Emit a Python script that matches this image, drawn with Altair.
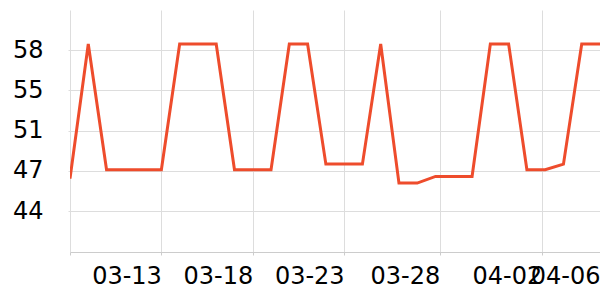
import altair as alt
import pandas as pd

# Dates (one point per day) and values
dates = ["03-08", "03-09", "03-10", "03-11", "03-12", "03-13", "03-14", "03-15",
         "03-16", "03-17", "03-18", "03-19", "03-20", "03-21", "03-22", "03-23",
         "03-24", "03-25", "03-26", "03-27", "03-28", "03-29", "03-30", "03-31",
         "04-01", "04-02", "04-03", "04-04", "04-05", "04-06"]
values = [46.7, 58.76, 47.5, 47.5, 47.5, 47.5, 58.76, 58.76,
          58.76, 47.5, 47.5, 47.5, 58.76, 58.76, 48.0, 48.0,
          48.0, 58.76, 46.3, 46.3, 46.9, 46.9, 46.9, 58.76,
          58.76, 47.5, 47.5, 48.0, 58.76, 58.76]

# Axis ticks
x_tick_pos = [0, 5, 10, 15, 20.23, 25.81, 29]
x_tick_labels = ["", "03-13", "03-18", "03-23", "03-28", "04-02", "04-06"]
y_tick_values = [43.8, 47.4, 51.0, 54.6, 58.2]
y_domain = [40.13, 61.8]

df = pd.DataFrame({"idx": list(range(len(dates))), "date": dates, "value": values})

# build label expression from tick positions/labels
expr = "''"
for i in range(len(x_tick_pos) - 1, -1, -1):
    if i == len(x_tick_pos) - 1:
        expr = f"'{x_tick_labels[i]}'"
    else:
        mid = (x_tick_pos[i] + x_tick_pos[i + 1]) / 2
        expr = f"datum.value < {mid} ? '{x_tick_labels[i]}' : ({expr})"

chart = alt.Chart(df).mark_line(color="#ee4c2c", strokeWidth=3, clip=True).encode(
    x=alt.X("idx:Q",
            scale=alt.Scale(domain=[0, len(dates) - 1], nice=False, zero=False),
            axis=alt.Axis(values=x_tick_pos, labelExpr=expr, title=None,
                          labelAlign="right", labelFontSize=24, labelFont="DejaVu Sans",
                          labelColor="#000", tickSize=3, tickColor="#ccc",
                          domainColor="#ccc", gridColor="#ddd", labelPadding=9,
                          labelOverlap=False, labelFlush=False, labelBound=False)),
    y=alt.Y("value:Q",
            scale=alt.Scale(domain=y_domain, nice=False, zero=False),
            axis=alt.Axis(values=y_tick_values, format=".0f", title=None,
                          labelFontSize=24, labelFont="DejaVu Sans", labelColor="#000",
                          tickSize=2, tickColor="#ddd", domain=False, gridColor="#ddd",
                          labelPadding=25, labelOverlap=False)),
).properties(
    width=530, height=242,
    autosize=alt.AutoSizeParams(type="none"),
    padding={"left": 70, "top": 10, "right": 0, "bottom": 48},
).configure_view(stroke=None)

chart.save("out.html", embed_options={"renderer": "svg", "actions": False})
